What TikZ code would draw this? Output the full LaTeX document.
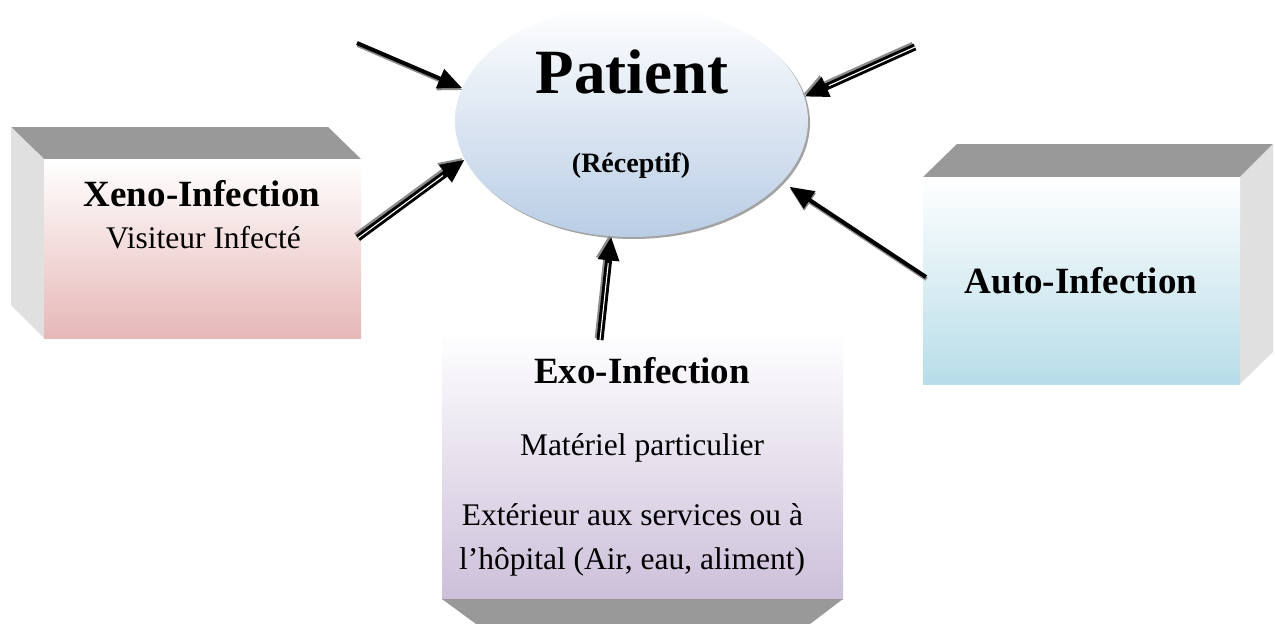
\documentclass[tikz,border=0pt]{standalone}
\usepackage{fontspec}
\setmainfont{Liberation Serif}
\usetikzlibrary{arrows.meta,shapes.geometric}
\definecolor{topgray}{HTML}{999999}
\definecolor{sidegray}{HTML}{E0E0E0}
\definecolor{shadowgray}{HTML}{8C8C8C}
\definecolor{pinkb}{HTML}{E6B8B7}
\definecolor{blueb}{HTML}{B7DDE8}
\definecolor{lavb}{HTML}{CCC0DA}
\definecolor{ellb}{HTML}{B9CDE5}
\begin{document}
\begin{tikzpicture}[x=1pt,y=-1pt,
  title/.style={font=\fontsize{37}{40}\selectfont\bfseries, anchor=base, inner sep=0pt},
  body/.style={font=\fontsize{31.5}{36}\selectfont, anchor=base, inner sep=0pt},
  tipstyle/.style={-{Triangle[length=24pt,width=20pt]}},
  singlearrow/.style={line width=4pt, black, tipstyle},
  singleshadow/.style={line width=4pt, shadowgray, tipstyle, transform canvas={xshift=0.5pt,yshift=-2pt}},
  triplearrow/.style={line width=7pt, black, tipstyle},
  triplegap/.style={line width=1.1pt, white, shorten >=27pt},
  tripleshadow/.style={line width=7pt, shadowgray, tipstyle, transform canvas={xshift=-1.8pt,yshift=1.8pt}}
]
\useasboundingbox (0,0) rectangle (1275,624);

% Xeno box
\fill[topgray] (11,127) -- (328,127) -- (361,159) -- (44,159) -- cycle;
\fill[sidegray] (11,127) -- (44,159) -- (44,338) -- (11,305) -- cycle;
\shade[top color=white, bottom color=pinkb] (44,159) rectangle (361,338);

% Auto box
\fill[topgray] (957,144) -- (1273,144) -- (1240,177) -- (923,177) -- cycle;
\fill[sidegray] (1240,177) -- (1273,144) -- (1273,352) -- (1240,384) -- cycle;
\shade[top color=white, bottom color=blueb] (923,177) rectangle (1240,384);

% Exo box
\shade[top color=white, bottom color=lavb] (442,330) rectangle (843,599);
\fill[topgray] (442,599) -- (843,599) -- (810,624) -- (476,624) -- cycle;

% Patient ellipse
\fill[shadowgray!80] (633.5,123) ellipse [x radius=176.5, y radius=116];
\node[ellipse, minimum width=353pt, minimum height=232pt, inner sep=0pt,
      top color=white, bottom color=ellb] (patient) at (631.5,121) {};

% Texts
\node[font=\fontsize{63}{63}\selectfont\bfseries, anchor=base, inner sep=0pt] (ptitle) at (632,93) {Patient};
\node[font=\fontsize{28}{30}\selectfont\bfseries, anchor=base, inner sep=0pt] (precv) at (631,172) {(Réceptif)};

\node[title] (xeno) at (202,206) {Xeno-Infection};
\node[body] (visit) at (203.5,248) {Visiteur Infecté};

\node[title] (auto) at (1081,293) {Auto-Infection};

\node[title] (exo) at (642,383) {Exo-Infection};
\node[body] (mat) at (642,455) {Matériel particulier};
\node[body] (ext1) at (632.5,525) {Extérieur aux services ou à};
\node[body] (ext2) at (632,569) {l’hôpital (Air, eau, aliment)};

% Arrow start points
\coordinate (s1) at (357,43);
\coordinate (s2) at (915,47);
\coordinate (s3) at (358,238);
\coordinate (s4) at (600,340);
\coordinate (s5) at (926,277);

% Top-left single arrow
\draw[singleshadow] (s1) -- (patient.169);
\draw[singlearrow] (s1) -- (patient.169);

% Right single arrow
\draw[singleshadow, shorten >=9pt] (s5) -- (patient.338);
\draw[singlearrow, shorten >=9pt] (s5) -- (patient.338);

% Top-right triple arrow
\draw[tripleshadow] (s2) -- (patient.8);
\draw[triplearrow] (s2) -- (patient.8);
\draw[triplegap] (s2) -- (patient.8);

% Left triple arrow
\draw[tripleshadow] (s3) -- (patient.193);
\draw[triplearrow] (s3) -- (patient.193);
\draw[triplegap] (s3) -- (patient.193);

% Bottom triple arrow
\draw[tripleshadow] (s4) -- (patient.260);
\draw[triplearrow] (s4) -- (patient.260);
\draw[triplegap] (s4) -- (patient.260);
\end{tikzpicture}
\end{document}
